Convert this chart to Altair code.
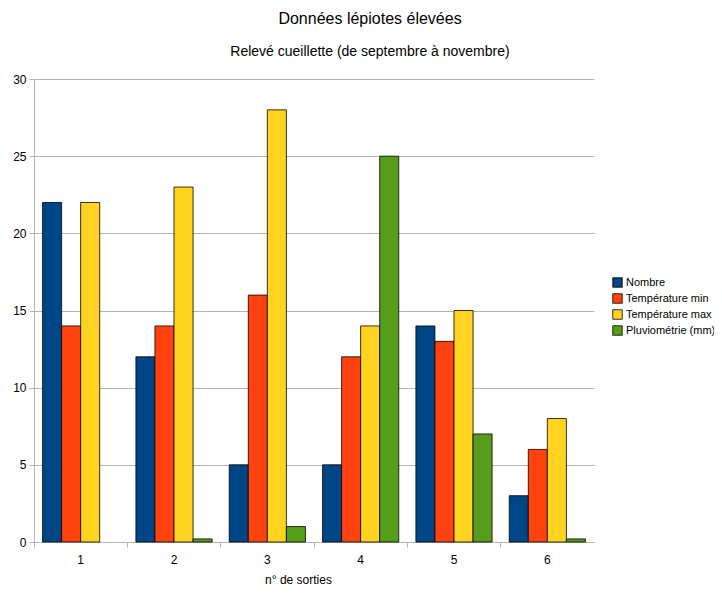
import altair as alt
import pandas as pd

sorties = ["1", "2", "3", "4", "5", "6"]
series = ["Nombre", "Température min", "Température max", "Pluviométrie (mm)"]
nombre = [22, 12, 5, 5, 14, 3]
temp_min = [14, 14, 16, 12, 13, 6]
temp_max = [22, 23, 28, 14, 15, 8]
pluvio = [0, 0.2, 1, 25, 7, 0.2]
colors = ["#004586", "#ff420e", "#ffd320", "#579d1c"]

rows = []
for i, s in enumerate(sorties):
    for name, vals in zip(series, [nombre, temp_min, temp_max, pluvio]):
        rows.append({"sortie": s, "serie": name, "valeur": vals[i]})
df = pd.DataFrame(rows)

FONT = "Liberation Sans"

chart = alt.Chart(df).transform_filter(
    "datum.valeur > 0"
).mark_bar(stroke="#000000", strokeWidth=0.8).encode(
    x=alt.X("sortie:N", sort=sorties,
            scale=alt.Scale(domain=sorties, paddingInner=0, paddingOuter=0),
            axis=alt.Axis(title="n° de sorties", labelAngle=0, bandPosition=0,
                          labelPadding=7, titlePadding=9, grid=False,
                          tickColor="#b3b3b3", domainColor="#b3b3b3",
                          tickSize=5, labelFontSize=12, titleFontSize=12,
                          titleFontWeight="normal", titleX=264, labelFont=FONT,
                          titleFont=FONT, labelColor="#000", titleColor="#000")),
    xOffset=alt.XOffset("serie:N", sort=series,
                        scale=alt.Scale(domain=series, paddingInner=0, paddingOuter=0.45)),
    y=alt.Y("valeur:Q", scale=alt.Scale(domain=[0, 30]),
            axis=alt.Axis(title=None, values=[0, 5, 10, 15, 20, 25, 30],
                          gridColor="#b3b3b3", tickColor="#b3b3b3",
                          domainColor="#b3b3b3", tickSize=5, labelPadding=3,
                          labelFontSize=12, labelFont=FONT, labelColor="#000")),
    color=alt.Color("serie:N", sort=series,
                    scale=alt.Scale(domain=series, range=colors),
                    legend=alt.Legend(title=None, orient="none", legendX=578,
                                      legendY=198, symbolType="square",
                                      symbolSize=90, symbolStrokeColor="#000",
                                      symbolStrokeWidth=0.8, labelFontSize=11,
                                      labelFont=FONT, labelColor="#000",
                                      rowPadding=3, labelOffset=3,
                                      symbolOpacity=1)),
).properties(
    width=560,
    height=463,
    title=alt.TitleParams(
        text="Données lépiotes élevées",
        subtitle="Relevé cueillette (de septembre à novembre)",
        anchor="middle", frame="group", dx=56,
        font=FONT, fontSize=16, fontWeight="normal", color="#000",
        subtitleFont=FONT, subtitleFontSize=14, subtitleColor="#000",
        subtitlePadding=18, offset=14,
    ),
    autosize=alt.AutoSizeParams(type="none"),
    padding={"left": 26, "top": 71, "right": 120, "bottom": 44},
).configure_view(stroke=None)

chart.save("out.html", embed_options={"renderer": "svg", "actions": False})
